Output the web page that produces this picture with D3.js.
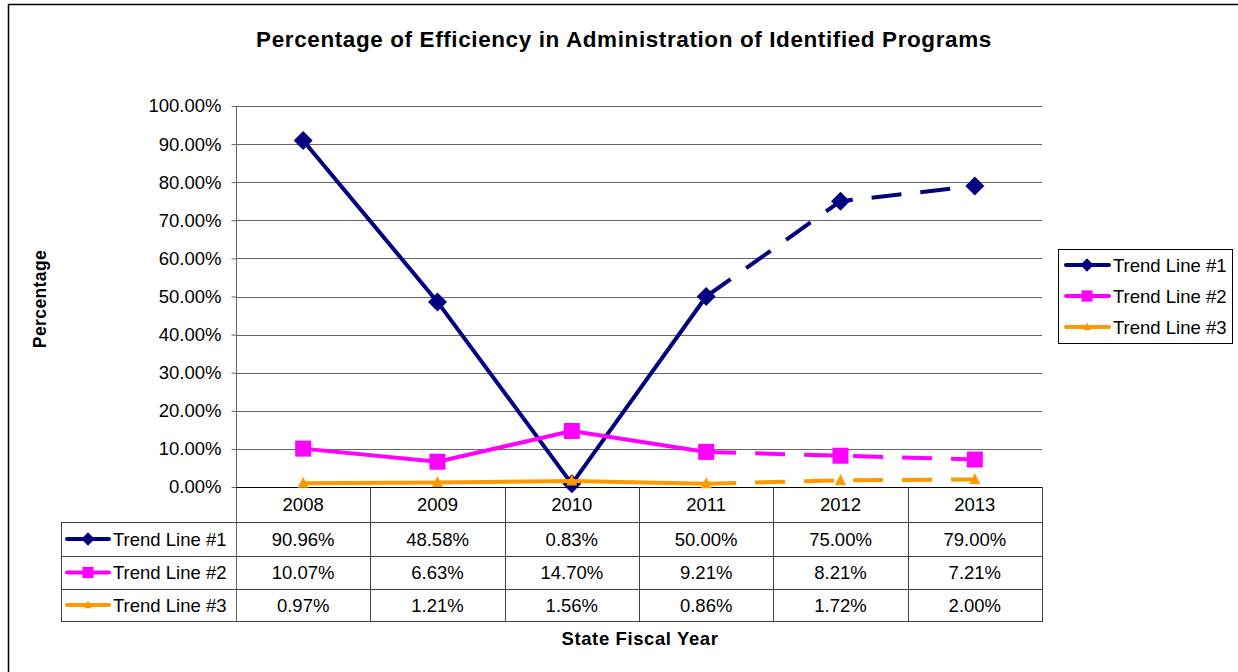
<!DOCTYPE html>
<html>
<head>
<meta charset="utf-8">
<script src="https://cdn.jsdelivr.net/npm/d3@7"></script>
<style>
  body { margin: 0; background: #fff; }
  text { font-family: "Liberation Sans", Arial, sans-serif; fill: #000; }
</style>
</head>
<body>
<svg id="chart" width="1238" height="672"></svg>
<script>
// data
var years = ["2008", "2009", "2010", "2011", "2012", "2013"];
var trend1 = [0.9096, 0.4858, 0.0083, 0.5000, 0.7500, 0.7900];
var trend2 = [0.1007, 0.0663, 0.1470, 0.0921, 0.0821, 0.0721];
var trend3 = [0.0097, 0.0121, 0.0156, 0.0086, 0.0172, 0.0200];
var seriesNames = ["Trend Line #1", "Trend Line #2", "Trend Line #3"];
var seriesColors = ["#000080", "#FF00FF", "#FF9900"];
var yTicks = [0, 0.1, 0.2, 0.3, 0.4, 0.5, 0.6, 0.7, 0.8, 0.9, 1.0];
var projectedFrom = "2011"; // dashed from here on

var allSeries = [trend1, trend2, trend3];

var svg = d3.select("#chart");
var plot = { left: 236, right: 1042, top: 106, bottom: 487 };
var table = { left: 61, rows: [522, 556, 589, 621] };
var fmt = d3.format(".2%");

// outer frame
svg.append("rect")
  .attr("x", 8.5).attr("y", 4.5)
  .attr("width", 1260).attr("height", 700)
  .attr("fill", "none").attr("stroke", "#000").attr("stroke-width", 1.5);

// title
svg.append("text")
  .attr("x", 624).attr("y", 47)
  .attr("text-anchor", "middle")
  .attr("font-size", "22.5px").attr("font-weight", "bold")
  .attr("letter-spacing", "0.6px")
  .text("Percentage of Efficiency in Administration of Identified Programs");

// scales
var x = d3.scaleBand().domain(years).range([plot.left, plot.right]).padding(0);
var y = d3.scaleLinear().domain([0, 1]).range([plot.bottom, plot.top]);

// gridlines
svg.append("g")
  .selectAll("line")
  .data(yTicks.filter(function (d) { return d > 0; }))
  .enter().append("line")
  .attr("x1", plot.left).attr("x2", plot.right)
  .attr("y1", function (d) { return Math.round(y(d)) + 0.5; })
  .attr("y2", function (d) { return Math.round(y(d)) + 0.5; })
  .attr("stroke", "#666").attr("stroke-width", 1);

// y axis
var yAxis = d3.axisLeft(y).tickValues(yTicks).tickFormat(fmt).tickSize(5).tickPadding(10);
var yg = svg.append("g")
  .attr("transform", "translate(" + (plot.left + 0.5) + ",0)")
  .call(yAxis);
yg.select(".domain").remove();
yg.selectAll(".tick line").attr("stroke", "#666");
yg.selectAll(".tick text")
  .attr("font-family", "Liberation Sans, Arial, sans-serif")
  .attr("font-size", "18.5px").attr("fill", "#000");

// y axis line down through the table
svg.append("line")
  .attr("x1", plot.left + 0.5).attr("x2", plot.left + 0.5)
  .attr("y1", plot.top).attr("y2", table.rows[3])
  .attr("stroke", "#666");

// y label
svg.append("text")
  .attr("transform", "translate(46," + 299 + ") rotate(-90)")
  .attr("text-anchor", "middle")
  .attr("font-size", "17.5px").attr("font-weight", "bold")
  .attr("letter-spacing", "0.4px")
  .text("Percentage");

// data table
var tg = svg.append("g");
// x axis line (0%)
tg.append("line")
  .attr("x1", plot.left).attr("x2", plot.right)
  .attr("y1", plot.bottom + 0.5).attr("y2", plot.bottom + 0.5)
  .attr("stroke", "#000");
// column separators
tg.selectAll(".sep")
  .data(years)
  .enter().append("line")
  .attr("class", "sep")
  .attr("x1", function (d) { return Math.round(x(d) + x.bandwidth()) + 0.5; })
  .attr("x2", function (d) { return Math.round(x(d) + x.bandwidth()) + 0.5; })
  .attr("y1", plot.bottom).attr("y2", table.rows[3])
  .attr("stroke", "#444");
// row lines
tg.selectAll(".rowline")
  .data(table.rows)
  .enter().append("line")
  .attr("class", "rowline")
  .attr("x1", table.left).attr("x2", plot.right + 1)
  .attr("y1", function (d) { return d + 0.5; })
  .attr("y2", function (d) { return d + 0.5; })
  .attr("stroke", "#444");
tg.append("line")
  .attr("x1", table.left + 0.5).attr("x2", table.left + 0.5)
  .attr("y1", table.rows[0]).attr("y2", table.rows[3])
  .attr("stroke", "#444");

// year labels
tg.selectAll(".year")
  .data(years)
  .enter().append("text")
  .attr("class", "year")
  .attr("x", function (d) { return x(d) + x.bandwidth() / 2; })
  .attr("y", (plot.bottom + table.rows[0]) / 2 + 6)
  .attr("text-anchor", "middle")
  .attr("font-size", "18.5px")
  .text(function (d) { return d; });

// markers
function marker(sel, i) {
  if (i === 0) {
    sel.append("path").attr("d", d3.symbol(d3.symbolSquare, 180)())
      .attr("transform", "rotate(45)").attr("fill", seriesColors[i]);
  } else if (i === 1) {
    sel.append("path").attr("d", d3.symbol(d3.symbolSquare, 256)())
      .attr("fill", seriesColors[i]);
  } else {
    sel.append("path").attr("d", "M0,-6.5L5.5,4.5L-5.5,4.5Z")
      .attr("fill", seriesColors[i]);
  }
}

// table rows
allSeries.forEach(function (vals, i) {
  var top = table.rows[i], bot = table.rows[i + 1];
  var cy = (top + bot) / 2;
  var key = tg.append("g");
  key.append("line")
    .attr("x1", 67).attr("x2", 109)
    .attr("y1", cy).attr("y2", cy)
    .attr("stroke", seriesColors[i]).attr("stroke-width", 4)
    .attr("stroke-linecap", "round");
  marker(key.append("g").attr("transform", "translate(88," + cy + ") scale(0.7)"), i);
  key.append("text")
    .attr("x", 113).attr("y", cy + 6.5)
    .attr("font-size", "18.5px")
    .text(seriesNames[i]);
  tg.selectAll(".val" + i)
    .data(vals)
    .enter().append("text")
    .attr("class", "val" + i)
    .attr("x", function (d, j) { return x(years[j]) + x.bandwidth() / 2; })
    .attr("y", cy + 6.5)
    .attr("text-anchor", "middle")
    .attr("font-size", "18.5px")
    .text(function (d) { return fmt(d); });
});

// x label
svg.append("text")
  .attr("x", 640).attr("y", 645)
  .attr("text-anchor", "middle")
  .attr("font-size", "18.5px").attr("font-weight", "bold")
  .attr("letter-spacing", "0.6px")
  .text("State Fiscal Year");

// lines
var line = d3.line()
  .x(function (d) { return x(d.year) + x.bandwidth() / 2; })
  .y(function (d) { return y(d.value); });
var cut = years.indexOf(projectedFrom);

allSeries.forEach(function (vals, i) {
  var pts = vals.map(function (v, j) { return { year: years[j], value: v }; });
  var g = svg.append("g");
  g.append("path")
    .datum(pts.slice(0, cut + 1))
    .attr("d", line)
    .attr("fill", "none").attr("stroke", seriesColors[i])
    .attr("stroke-width", 4).attr("stroke-linejoin", "round");
  g.append("path")
    .datum(pts.slice(cut))
    .attr("d", line)
    .attr("fill", "none").attr("stroke", seriesColors[i])
    .attr("stroke-width", 4)
    .attr("stroke-dasharray", "30,19");
  g.selectAll(".pt")
    .data(pts)
    .enter().append("g")
    .attr("transform", function (d) { return "translate(" + line.x()(d) + "," + line.y()(d) + ")"; })
    .each(function () { marker(d3.select(this), i); });
});

// legend
var lg = svg.append("g");
lg.append("rect")
  .attr("x", 1058.5).attr("y", 249.5)
  .attr("width", 174).attr("height", 94)
  .attr("fill", "#fff").attr("stroke", "#000");
seriesNames.forEach(function (name, i) {
  var cy = 265 + i * 31;
  lg.append("line")
    .attr("x1", 1066).attr("x2", 1109)
    .attr("y1", cy).attr("y2", cy)
    .attr("stroke", seriesColors[i]).attr("stroke-width", 4)
    .attr("stroke-linecap", "round");
  marker(lg.append("g").attr("transform", "translate(1087," + cy + ") scale(0.7)"), i);
  lg.append("text")
    .attr("x", 1113).attr("y", cy + 6.5)
    .attr("font-size", "18.5px")
    .text(name);
});
</script>
</body>
</html>
